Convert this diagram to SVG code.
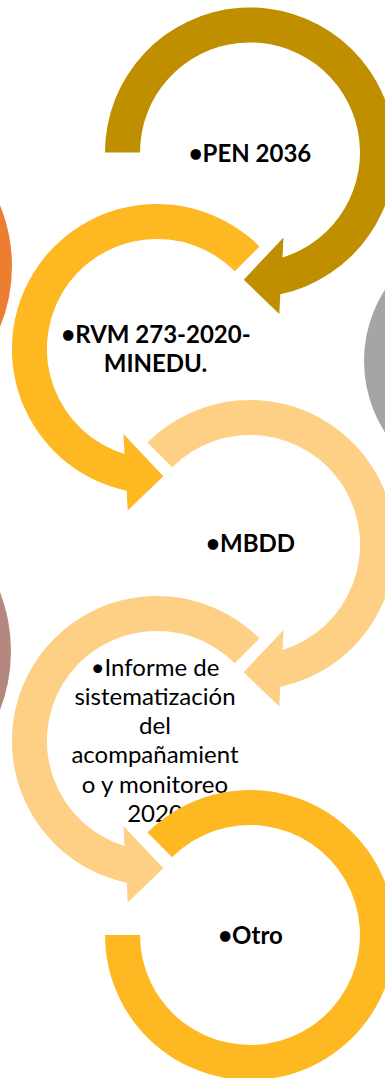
<svg xmlns="http://www.w3.org/2000/svg" width="385" height="1078" viewBox="0 0 385 1078">
<style>
text{font-family:Lato,"Open Sans","Liberation Sans",sans-serif;font-size:24px;fill:#000;text-anchor:middle}
.b{font-weight:bold}
.dark{fill:#BF8F00}
.mid{fill:#FEB822}
.light{fill:#FED086}
</style>
<rect width="385" height="1078" fill="#fff"/>
<g id="side-shapes">
<circle cx="-149" cy="266" r="161" fill="#ED7D31"/>
<circle cx="496" cy="361" r="132" fill="#A5A5A5"/>
<circle cx="-153" cy="651" r="164" fill="#B5877F"/>
</g>
<g id="connectors"></g>
<g id="node1">
<path class="dark" d="M105,152.5 A145,145 0 1 1 280.3,294.3 L279.3,314 L243.7,279.8 L283.5,237.5 L282.5,257.5 A110,110 0 1 0 140,152.5 Z"/>
<text class="b" x="250" y="162">•PEN 2036</text>
</g>
<g id="node2">
<path class="mid" d="M259.5,246.5 A145,145 0 1 0 126.7,490.8 L127.7,510.5 L163.3,476.3 L123.5,434 L124.5,454 A110,110 0 1 1 234.8,271.2 Z"/>
<text class="b" x="156" y="343">•RVM 273-2020-</text>
<text class="b" x="155.5" y="372">MINEDU.</text>
</g>
<g id="node3">
<path class="light" d="M147.5,442.5 A145,145 0 1 1 280.3,686.8 L279.3,706.5 L243.7,672.3 L283.5,630 L282.5,650 A110,110 0 1 0 172.2,467.2 Z"/>
<text class="b" x="250.5" y="552">•MBDD</text>
</g>
<g id="node4">
<path class="light" d="M259.5,638.5 A145,145 0 1 0 126.7,882.8 L127.7,902.5 L163.3,868.3 L123.5,826 L124.5,846 A110,110 0 1 1 234.8,663.2 Z"/>
<text x="155" y="676">•Informe de</text>
<text x="155" y="705">sistematización</text>
<text x="155" y="734">del</text>
<text x="155" y="763">acompañamient</text>
<text x="155" y="793">o y monitoreo</text>
<text x="155" y="822">2020</text>
</g>
<g id="node5">
<path class="mid" d="M147.5,832.5 A145,145 0 1 1 105,935 L140,935 A110,110 0 1 0 172.2,857.2 Z"/>
<text class="b" x="250.5" y="944">•Otro</text>
</g>
</svg>
